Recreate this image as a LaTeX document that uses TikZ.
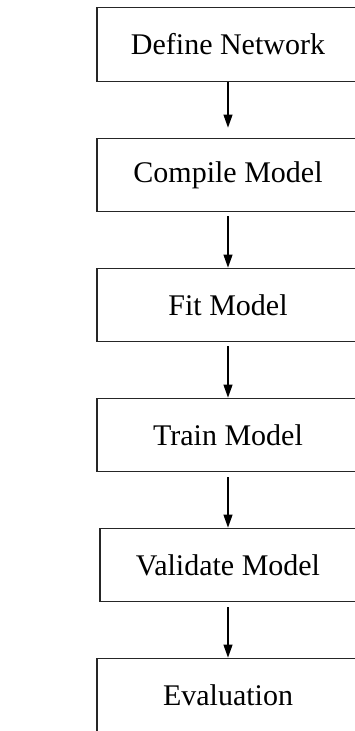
\documentclass[tikz,border=0pt]{standalone}
\usepackage{fontspec}
\setmainfont{Liberation Serif}
\usetikzlibrary{arrows.meta}
\begin{document}
\begin{tikzpicture}[x=1pt,y=-1pt,>={Triangle[length=13pt,width=9pt]},
		stagebox/.style={draw=black!85,line width=1.3pt,minimum width=262pt,
			minimum height=73.5pt,inner sep=0pt,font=\fontsize{30}{36}\selectfont},
		every edge/.append style={line width=1.1pt}]
	\useasboundingbox (0,0) rectangle (355,731);
	\clip (0,0) rectangle (355,731);
	\node (Dn) at (228,44.5) [stagebox] {Define Network};
	\node (Cm) at (228,175)  [stagebox] {Compile Model} edge [<-, shorten <=10pt] (Dn);
	\node (Fm) at (228,305)  [stagebox] {Fit Model} edge [<-, shorten >=4pt] (Cm);
	\node (Tm) at (228,435)  [stagebox] {Train Model} edge [<-, shorten >=4pt] (Fm);
	\node (Vm) at (228,565)  [stagebox, minimum width=256pt] {Validate Model} edge [<-, shorten >=5pt] (Tm);
	\node (Ev) at (228,695)  [stagebox] {Evaluation} edge [<-, shorten >=5pt] (Vm);
\end{tikzpicture}
\end{document}
